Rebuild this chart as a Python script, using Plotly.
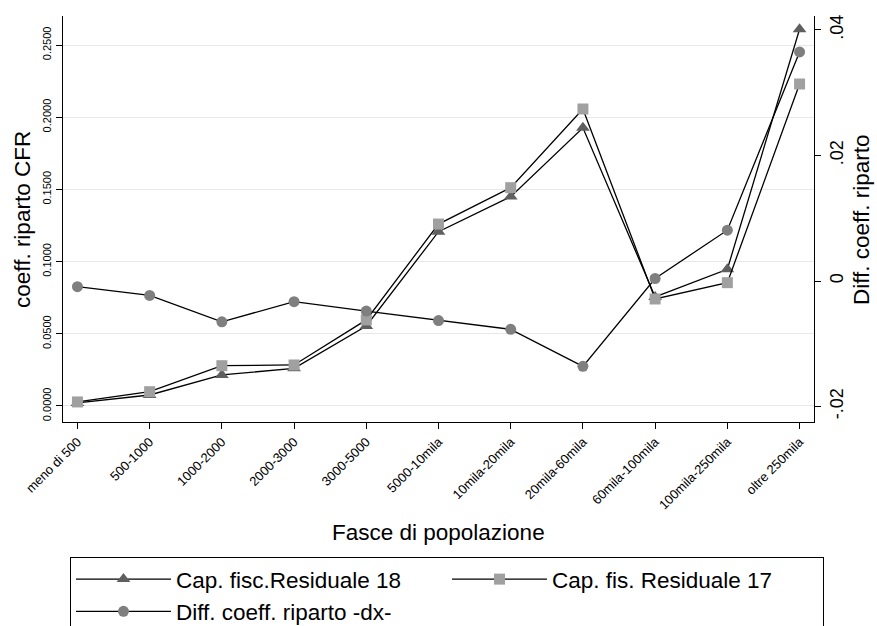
import plotly.graph_objects as go

categories = ["meno di 500", "500-1000", "1000-2000", "2000-3000", "3000-5000",
              "5000-10mila", "10mila-20mila", "20mila-60mila", "60mila-100mila",
              "100mila-250mila", "oltre 250mila"]
cap_fisc_18 = [0.0021, 0.0076, 0.0215, 0.0261, 0.0554, 0.1207, 0.1450, 0.1927, 0.0755, 0.0947, 0.2609]
cap_fis_17 = [0.0028, 0.0099, 0.0279, 0.0284, 0.0596, 0.1260, 0.1512, 0.2057, 0.0741, 0.0854, 0.2230]
diff_coeff = [-0.0009, -0.0023, -0.0065, -0.0033, -0.0048, -0.0063, -0.0077, -0.0136, 0.0004, 0.0081, 0.0365]
left_ticks = [0.0, 0.05, 0.10, 0.15, 0.20, 0.25]
right_ticks = [-0.02, 0, 0.02, 0.04]
right_ticktext = ["-.02", "0", ".02", ".04"]

FONT = "Liberation Sans, Arial, sans-serif"
x = list(range(len(categories)))

fig = go.Figure()
fig.add_trace(go.Scatter(
    x=x, y=cap_fisc_18, name="Cap. fisc.Residuale 18", mode="lines+markers",
    line=dict(color="black", width=1.3),
    marker=dict(symbol="triangle-up", size=12, color="#5f5f5f", line=dict(width=0)),
    yaxis="y"))
fig.add_trace(go.Scatter(
    x=x, y=cap_fis_17, name="Cap. fis. Residuale 17", mode="lines+markers",
    line=dict(color="black", width=1.3),
    marker=dict(symbol="square", size=11, color="#a0a0a0", line=dict(width=0)),
    yaxis="y"))
fig.add_trace(go.Scatter(
    x=x, y=diff_coeff, name="Diff. coeff. riparto -dx-", mode="lines+markers",
    line=dict(color="black", width=1.3),
    marker=dict(symbol="circle", size=11, color="#7f7f7f", line=dict(width=0)),
    yaxis="y2"))

fig.update_layout(
    width=877, height=626,
    margin=dict(l=63, r=63, t=16, b=204, autoexpand=False),
    paper_bgcolor="white", plot_bgcolor="white",
    font=dict(family=FONT, color="black"),
    xaxis=dict(
        range=[-0.2, 10.2], tickmode="array", tickvals=x, ticktext=categories,
        tickangle=-45, tickfont=dict(size=13), ticks="outside", ticklen=6,
        tickcolor="black", showline=True, linecolor="black", linewidth=1.3,
        showgrid=False, zeroline=False),
    yaxis=dict(
        range=[-0.0111, 0.2701], tickmode="array", tickvals=left_ticks,
        tickformat=".4f", tickangle=-90, tickfont=dict(size=11),
        ticks="outside", ticklen=6, tickcolor="black",
        showline=True, linecolor="black", linewidth=1.3,
        showgrid=True, gridcolor="#e8e8e8", gridwidth=1.3, zeroline=False),
    yaxis2=dict(
        overlaying="y", side="right",
        range=[-0.02247, 0.04223], tickmode="array", tickvals=right_ticks,
        ticktext=right_ticktext, tickangle=-90, tickfont=dict(size=18),
        ticks="outside", ticklen=6, tickcolor="black",
        showline=True, linecolor="black", linewidth=1.3,
        showgrid=False, zeroline=False),
    legend=dict(
        orientation="h", x=0.0093, y=-0.3325, xanchor="left", yanchor="top",
        bordercolor="black", borderwidth=1, bgcolor="white",
        font=dict(size=22.5), itemwidth=95, entrywidth=266, tracegroupgap=0,
        traceorder="normal"),
    annotations=[
        dict(text="Fasce di popolazione", xref="paper", yref="paper",
             x=(438.5 - 63) / 751, y=-0.273, xanchor="center", yanchor="middle",
             showarrow=False, font=dict(size=22.5)),
        dict(text="coeff. riparto CFR", xref="paper", yref="paper",
             x=-0.0546, y=0.5, xanchor="center", yanchor="middle", textangle=-90,
             showarrow=False, font=dict(size=22.5)),
        dict(text="Diff. coeff. riparto", xref="paper", yref="paper",
             x=(861 - 63) / 751, y=0.5, xanchor="center", yanchor="middle", textangle=-90,
             showarrow=False, font=dict(size=22.5)),
    ],
)

fig.write_html("out.html", config={"displayModeBar": False},
               post_script="document.body.style.margin='0';")
